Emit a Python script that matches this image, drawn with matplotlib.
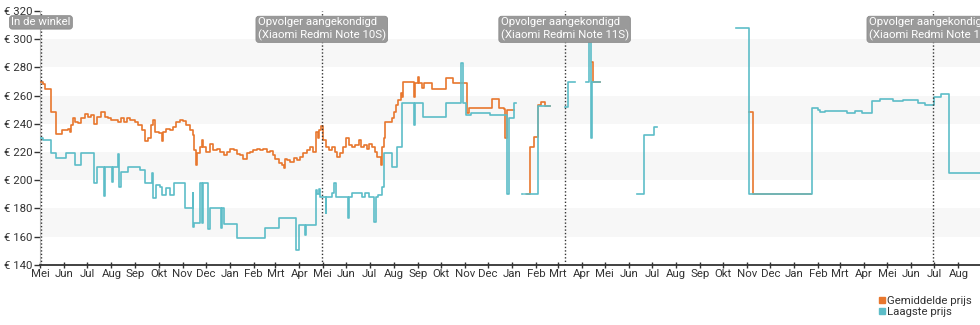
import numpy as np
import pandas as pd
import matplotlib
matplotlib.use("Agg")
import matplotlib.pyplot as plt
import matplotlib.dates as mdates
from matplotlib.lines import Line2D
from matplotlib.transforms import blended_transform_factory

plt.rcParams['font.family'] = ['Roboto', 'DejaVu Sans']

# days since 2020-05-01
start = pd.Timestamp('2020-05-01')
nan = np.nan

avg_days = [0, 4, 6, 14, 21, 28, 36, 38, 40, 43, 45, 49, 53, 58, 62, 66, 70, 74, 79, 84,
            88, 92, 97, 101, 105, 108, 112, 116, 122, 127, 131, 135, 140, 143, 146, 148,
            153, 157, 159, 163, 168, 172, 176, 181, 185, 189, 194, 197, 199, 201, 203,
            206, 209, 211, 215, 219, 224, 228, 232, 237, 241, 245, 250, 254, 258, 262,
            267, 271, 275, 280, 284, 288, 293, 297, 301, 304, 309, 313, 315, 316, 319,
            323, 328, 332, 336, 340, 345, 349, 353, 356, 359, 361, 363, 366, 369, 373,
            377, 381, 384, 388, 392, 395, 399, 403, 407, 412, 415, 418, 422, 425, 429,
            433, 436, 440, 442, 445, 446, 455, 457, 460, 463, 466, 468, 469, 483, 485,
            488, 490, 494, 496, 506, 524, 534, 552, 554, 584, 593, 600, 601, 604, 613,
            630, 633, 638, 643, 647, 653, 659, 714, 715, 724, 917, 922, 997]
avg_price = [270, 268, 264.5, 248.5, 232.5, 235.5, 236.5, 234, 239, 244, 241, 240.5, 244,
             246.8, 245, 246.5, 240, 245, 248.2, 245, 244.5, 242.5, 243, 241, 244, 241,
             244.5, 242.5, 241, 239, 235.7, 228, 229.7, 239, 242.7, 234.5, 233.4, 228,
             234.5, 236.5, 235.5, 238, 241, 242.5, 242, 239, 235.5, 232, 221.5, 211, 219,
             223.8, 228.6, 223.8, 220.3, 226, 221.5, 222.5, 220.3, 218, 220.3, 222.5,
             221.5, 218.7, 218, 215, 219, 220.3, 221.5, 222.5, 221.5, 222, 220.3, 221,
             218, 215, 212, 211, 208.5, 215, 214.4, 213, 215.6, 214.4, 216.7, 219.2,
             221.5, 223.8, 220.3, 234.5, 229.8, 235.7, 238.5, 228.6, 223.8, 221.5,
             223.8, 220.3, 216.7, 219.2, 223.8, 229.8, 225, 223.8, 225, 228.6, 223.8,
             225, 222.5, 226, 223.8, 220.3, 216.7, 211, 223.8, 229.8, 241.6, 244, 248.6,
             253.4, 257, 261.7, 259.4, 269.5, 259.3, 268.8, 273, 268.8, 265.2, 268.8,
             264.5, 272.3, 269.2, 247.5, 251, 257.4, 251, 250.3, 229.8, 250, nan,
             190.1, 223.8, 230.5, 253.4, 255.3, 252.7, nan, 284, 269.5, nan,
             248.6, 190.3, nan]

low_days = [0, 4, 14, 21, 34, 45, 53, 69, 73, 83, 84, 93, 94, 101, 102, 104, 114, 129,
            135, 145, 146, 150, 155, 158, 163, 168, 173, 187, 197, 198, 199, 206, 209,
            210, 217, 219, 234, 235, 237, 255, 291, 309, 331, 335, 343, 344, 356, 358,
            360, 362, 369, 370, 377, 380, 382, 398, 399, 403, 416, 420, 425, 432, 434,
            437, 442, 445, 455, 461, 468, 483, 484, 495, 525, 544, 547, 550, 557, 582,
            603, 606, 612, 615, 623, 624, 627, 643, 659, 679, 683, 692, 705, 709, 712,
            714, 724, 772, 781, 793, 797, 899, 917, 998, 1006, 1008, 1015, 1043, 1054,
            1062, 1076, 1086, 1103, 1116, 1135, 1144, 1156, 1164, 1175, 1216]
low_price = [230, 228.6, 219.6, 215.6, 219.6, 211, 219.6, 198.3, 209.5, 189, 209.5, 199,
             209.5, 218.7, 195.5, 206, 209.2, 207, 198.3, 205, 187.2, 196.7, 195, 189.6,
             194.3, 189.6, 198, 180.2, 191.2, 167.1, 169.6, 198, 169.6, 198, 165.3,
             180.2, 166, 180.2, 169, 158.9, 166, 173, 150.2, 168.4, 161.2, 168.4, 193.1,
             190, 194, 188.4, 176.6, 188.4, 190.8, 197.9, 188.4, 173, 187.8, 190.8,
             187.8, 190.8, 187.8, 170.6, 187.8, 189.6, 195.5, 219.2, 209.2, 223.8,
             254.6, 239.2, 254.6, 245.1, 255, 283.4, 255, 246.3, 247.5, 246.3, 190.3,
             244, 254.6, nan, 190, nan, 190.1, 252.7, nan, 252.2, 269.5, nan, 269.5,
             299.5, 229.8, 269.5, nan, 190.1, 232.1, 237.6, nan, 308, 190.3, 251, 249.8,
             248.6, 249.4, 247.5, 249.4, 248, 256.2, 257.4, 256.5, 257, 255, 253.4,
             259.3, 261.2, 205, 205]

event_days = [1, 364, 678, 1154]
event_labels = ['In de winkel',
                'Opvolger aangekondigd\n(Xiaomi Redmi Note 10S)',
                'Opvolger aangekondigd\n(Xiaomi Redmi Note 11S)',
                'Opvolger aangekondigd\n(Xiaomi Redmi Note 12S)']

month_names = ['Jan', 'Feb', 'Mrt', 'Apr', 'Mei', 'Jun', 'Jul', 'Aug', 'Sep', 'Okt', 'Nov', 'Dec']
y_ticks = [140, 160, 180, 200, 220, 240, 260, 280, 300, 320]

c_avg = '#e8772e'
c_low = '#5dbdc8'

def to_dates(days):
    return start + pd.to_timedelta(days, unit='D')

fig = plt.figure(figsize=(9.8, 3.25), dpi=100)
ax = fig.add_axes([0.041, 0.185, 0.959, 0.781])

for lo in [160, 200, 240, 280]:
    ax.axhspan(lo, lo + 20, color='#f7f7f7', zorder=0, lw=0)

ax.plot(to_dates(avg_days), avg_price, drawstyle='steps-post', color=c_avg, lw=1.2, zorder=3)
ax.plot(to_dates(low_days), low_price, drawstyle='steps-post', color=c_low, lw=1.2, zorder=4)

trans = blended_transform_factory(ax.transData, ax.transAxes)
for d, lab in zip(event_days, event_labels):
    x = mdates.date2num(to_dates([d])[0])
    ax.axvline(x, color='#333333', ls=(0, (1, 1.5)), lw=1.0, zorder=5)
    ax.text(x, 0.975, lab, transform=trans, ha='center', va='top', multialignment='left',
            color='white', fontsize=8.2, zorder=6, clip_on=False,
            bbox=dict(boxstyle='round,pad=0.15,rounding_size=0.25', fc='#9a9a9a',
                      ec='#8c8c8c', lw=0.6))

ax.set_ylim(140, 320)
ax.set_yticks(y_ticks)
ax.set_yticklabels([f'€ {v}' for v in y_ticks])
ax.set_xlim(to_dates([0])[0], to_dates([1215])[0])
ax.xaxis.set_major_locator(mdates.MonthLocator())
ax.xaxis.set_major_formatter(plt.FuncFormatter(
    lambda v, p: month_names[mdates.num2date(v).month - 1]))

ax.tick_params(axis='y', direction='out', length=4, width=1, pad=1.5,
               labelsize=8.2, labelcolor='#333333', color='#333333')
ax.tick_params(axis='x', direction='inout', length=5, width=1, pad=0.5,
               labelsize=8.2, labelcolor='#333333', color='#333333')
for s in ['top', 'right']:
    ax.spines[s].set_visible(False)
ax.spines['bottom'].set_color('#333333')
ax.spines['bottom'].set_linewidth(1.3)
ax.spines['left'].set_color('#bbbbbb')
ax.spines['left'].set_linewidth(0.8)

handles = [Line2D([], [], marker='s', ls='none', color=c_avg, markersize=5),
           Line2D([], [], marker='s', ls='none', color=c_low, markersize=5)]
fig.legend(handles, ['Gemiddelde prijs', 'Laagste prijs'], loc='upper right',
           bbox_to_anchor=(1.0, 0.115), frameon=False, fontsize=8.2,
           handletextpad=0.1, handlelength=0.8, labelspacing=0.15, borderpad=0.2,
           labelcolor='#333333')

fig.savefig('out.png', dpi=100)
